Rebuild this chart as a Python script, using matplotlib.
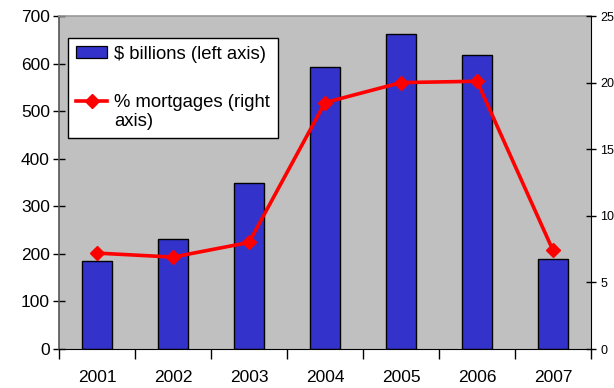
import numpy as np
import matplotlib.pyplot as plt
from matplotlib.patches import Patch
from matplotlib.lines import Line2D
from matplotlib.legend_handler import HandlerLine2D

plt.rcParams['font.family'] = ['Liberation Sans', 'DejaVu Sans']

years = ['2001', '2002', '2003', '2004', '2005', '2006', '2007']
billions = [186, 231, 349, 593, 662, 617, 190]
pct_mortgages = [7.2, 6.9, 8.0, 18.5, 20.0, 20.1, 7.4]

bar_color = '#3333CC'
line_color = '#FF0000'


class FirstLineHandler(HandlerLine2D):
    """Line handle lifted to sit next to the first line of a two-line label."""
    def __init__(self, lift, **kw):
        super().__init__(**kw)
        self.lift = lift

    def create_artists(self, legend, orig_handle, xdescent, ydescent,
                       width, height, fontsize, trans):
        artists = super().create_artists(legend, orig_handle, xdescent, ydescent,
                                         width, height, fontsize, trans)
        for a in artists:
            a.set_ydata(np.asarray(a.get_ydata()) + self.lift * fontsize)
        return artists


fig = plt.figure(figsize=(6.14, 3.88), dpi=100)
ax = fig.add_axes([59 / 614, 39 / 388, 532 / 614, 333 / 388])
ax.set_facecolor('#C0C0C0')

x = np.arange(len(years))
ax.bar(x, billions, width=0.4, color=bar_color, edgecolor='black', linewidth=1.0, zorder=2)
ax.set_xlim(-0.5, len(years) - 0.5)
ax.set_ylim(0, 700)
ax.set_yticks(range(0, 701, 100))
ax.tick_params(axis='y', labelsize=12.5, direction='inout', length=9, width=1, pad=2)

# category labels sit between the boundary ticks
ax.set_xticks(np.arange(-0.5, len(years), 1))
ax.set_xticklabels([])
ax.set_xticks(x, minor=True)
ax.set_xticklabels(years, minor=True, fontsize=12.5)
ax.tick_params(axis='x', which='major', direction='out', length=7, width=1)
ax.tick_params(axis='x', which='minor', length=0, pad=15)

ax.spines['left'].set_color('#555555')
ax.spines['left'].set_linewidth(1.2)
ax.spines['top'].set_color('#999999')
ax.spines['top'].set_linewidth(1.2)
ax.spines['bottom'].set_color('black')
ax.spines['right'].set_visible(False)

ax2 = ax.twinx()
ax2.plot(x, pct_mortgages, color=line_color, linewidth=2.6, marker='D',
         markersize=7, zorder=3)
ax2.set_ylim(0, 25)
ax2.set_yticks(range(0, 26, 5))
ax2.tick_params(axis='y', labelsize=9, direction='inout', length=7, width=1, pad=3)
ax2.spines['right'].set_color('black')
for side in ['left', 'top', 'bottom']:
    ax2.spines[side].set_visible(False)

bar_handle = Patch(facecolor=bar_color, edgecolor='black', linewidth=0.9)
line_handle = Line2D([], [], color=line_color, linewidth=2.6, marker='D', markersize=7)
labels = [r'\$ billions (left axis)', '% mortgages (right\naxis)']
leg = ax2.legend([bar_handle, line_handle], labels, loc='upper left',
                 bbox_to_anchor=(0.017, 0.934),
                 handler_map={line_handle: FirstLineHandler(lift=0.62)},
                 fontsize=13.3, frameon=True, fancybox=False, framealpha=1,
                 edgecolor='black', borderpad=0.42, labelspacing=1.68,
                 handlelength=1.7, handleheight=0.65, handletextpad=0.38,
                 borderaxespad=0)
leg.get_frame().set_linewidth(1.0)
for t in leg.get_texts():
    t.set_linespacing(1.17)

fig.savefig('out.png', dpi=100)
